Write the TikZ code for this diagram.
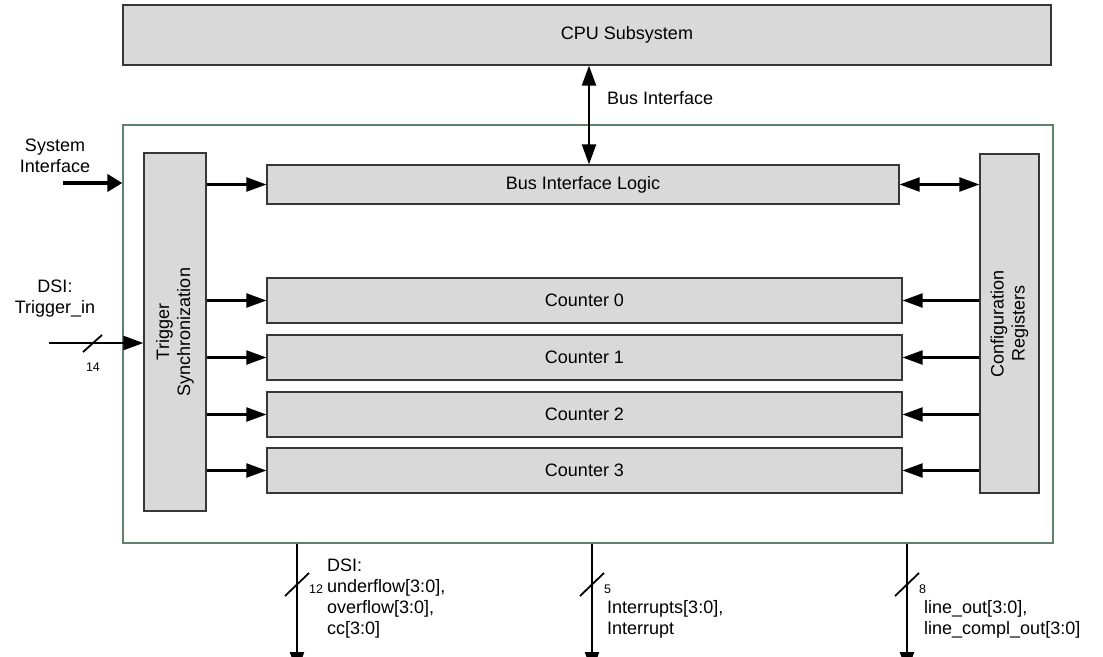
\documentclass[tikz,border=0pt]{standalone}
\usepackage{fontspec}
\setmainfont{Liberation Sans}
\usetikzlibrary{arrows.meta}
\definecolor{BlockFill}{RGB}{217,217,217}
\definecolor{BlockLine}{RGB}{55,55,55}
\definecolor{FrameLine}{RGB}{96,128,110}

\begin{document}
\begin{tikzpicture}[x=1pt,y=-1pt,
  blk/.style 2 args={draw=BlockLine,fill=BlockFill,line width=1.2pt,rectangle,inner sep=0pt,minimum width=#1pt,minimum height=#2pt,font=\fontsize{18}{21}\selectfont},
  lbl/.style={font=\fontsize{18}{21}\selectfont,align=left,inner sep=0pt},
  num/.style={font=\fontsize{12.5}{14}\selectfont,inner sep=0pt},
  sig/.style={line width=2.2pt,-{Triangle[length=20pt,width=14pt]}},
  dsig/.style={line width=2.2pt,{Triangle[length=20pt,width=14pt]}-{Triangle[length=20pt,width=14pt]}},
  wide/.style={line width=4pt,-{Triangle[length=15pt,width=17pt]}},
  slash/.style={line width=1.8pt}]
\useasboundingbox (0,0) rectangle (1103,656);
\node[draw=FrameLine,line width=1.2pt,rectangle,minimum width=930pt,minimum height=418pt](outer) at(588,334) {};
\node[blk={928}{60}](cpu) at(587,35) {};
\node[lbl](cputxt) at(627,35) {CPU Subsystem};
\node[blk={62}{358}](trg) at(175,332) {};
\node[rotate=90,lbl,align=center](trgtxt) at(trg) {Trigger\\Synchronization};
\node[blk={59}{339}](cfg) at(1009.5,323.5) {};
\node[rotate=90,lbl,align=center](cfgtxt) at(cfg) {Configuration\\Registers};
\node[blk={632}{39}](bil) at(583,184.5) {Bus Interface Logic};
\foreach \n/\y in %
{0/300.5,1/357.5,2/414.5,3/470.5} {
   \node[blk={635}{45}](cnt\n) at(584.5,\y) {Counter \n};
   \draw[sig] (cnt\n.west -| trg.east) -- (cnt\n.west);
   \draw[sig] (cnt\n.east -| cfg.west) -- (cnt\n.east);
}
\draw[sig] (bil.west -| trg.east) -- (bil.west);
\draw[dsig] (bil.east) -- (bil.east -| cfg.west);
\draw[dsig] ([xshift=6pt]bil.north |- cpu.south) -- ([xshift=6pt]bil.north);
\node[lbl,anchor=west](busif) at(607,98) {Bus Interface};
% inputs on the left
\coordinate (sysin) at(63,183);
\coordinate (dsiin) at(49,343);
\draw[wide] (sysin) -- (sysin -| outer.west);
\draw[sig] (dsiin) -- (dsiin -| trg.west);
\draw[slash] (83,352) -- (102,335);
\node[lbl,align=center](syslbl) at(55,156) {System\\Interface};
\node[lbl,align=center](dsilbl) at(55,299) {DSI:\\Trigger\_in};
\node[num](w14) at(93,367) {14};
% outputs at the bottom
\foreach \n/\x/\w in %
{1/297/12,2/592/5,3/907/8} {
   \coordinate (out\n) at(\x,672);
   \draw[sig] (out\n |- outer.south) -- (out\n);
   \draw[slash] (\x-12,596) -- (\x+12,573);
   \node[num,anchor=west](w\n) at(\x+12,589) {\w};
}
\node[lbl,anchor=west](o1) at(327,598.5) {DSI:\\underflow[3:0],\\overflow[3:0],\\cc[3:0]};
\node[lbl,anchor=west](o2) at(607,619) {Interrupts[3:0],\\Interrupt};
\node[lbl,anchor=west](o3) at(924,619) {line\_out[3:0],\\line\_compl\_out[3:0]};
\end{tikzpicture}
\end{document}
